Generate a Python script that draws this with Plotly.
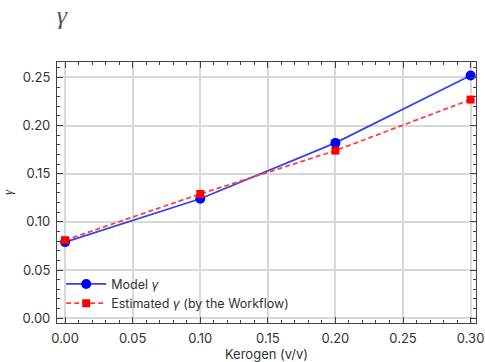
import plotly.graph_objects as go

kerogen = [0.0, 0.1, 0.2, 0.3]
model_gamma = [0.079, 0.124, 0.182, 0.252]
estimated_gamma = [0.081, 0.129, 0.174, 0.227]

fig = go.Figure()
fig.add_trace(go.Scatter(
    x=kerogen, y=model_gamma, mode="lines+markers", name="Model <i>γ</i>",
    line=dict(color="#3344ee", width=1.8),
    marker=dict(color="#0000ff", size=10, symbol="circle"),
))
fig.add_trace(go.Scatter(
    x=kerogen, y=estimated_gamma, mode="lines+markers",
    name="Estimated <i>γ</i> (by the Workflow)",
    line=dict(color="#ff4040", width=1.8, dash="5px,3px"),
    marker=dict(color="#ff0000", size=8, symbol="square"),
))

tickfont = dict(family="Inter", size=13, color="#333333")

def axis(rng, title, title_font, standoff):
    return dict(
        range=rng, dtick=0.05, tickformat=".2f", automargin=False,
        showline=True, linecolor="#444444", linewidth=1.2, mirror="allticks",
        ticks="inside", ticklen=6, tickcolor="#444444", ticklabelstandoff=3,
        showgrid=True, gridcolor="#d8d8d8", gridwidth=1.5, zeroline=False,
        tickfont=tickfont,
        minor=dict(ticks="inside", ticklen=3, tickcolor="#444444", dtick=0.01, showgrid=False),
        title=dict(text=title, font=title_font, standoff=standoff),
    )

fig.update_layout(
    width=485, height=362,
    paper_bgcolor="white", plot_bgcolor="white",
    margin=dict(l=57, r=9, t=62, b=39),
    title=dict(text="<i>γ</i>", x=0.117, xanchor="left", y=0.958, yanchor="middle",
               font=dict(family="Liberation Serif", size=26, color="#4a5a5a")),
    xaxis=axis([-0.006, 0.304], "Kerogen (v/v)",
               dict(family="Inter", size=13, color="#333333"), 3),
    yaxis=axis([-0.005, 0.266], "<i>γ</i>",
               dict(family="Liberation Serif", size=13, color="#333333"), 12),
    legend=dict(x=0.01, y=0.018, xanchor="left", yanchor="bottom",
                bgcolor="rgba(255,255,255,0)", font=dict(family="Inter", size=12.5, color="#333333"),
                itemwidth=40, tracegroupgap=10),
    showlegend=True,
)

fig.write_html("out.html", config={"displayModeBar": False},
               post_script="document.body.style.margin='0px';")
